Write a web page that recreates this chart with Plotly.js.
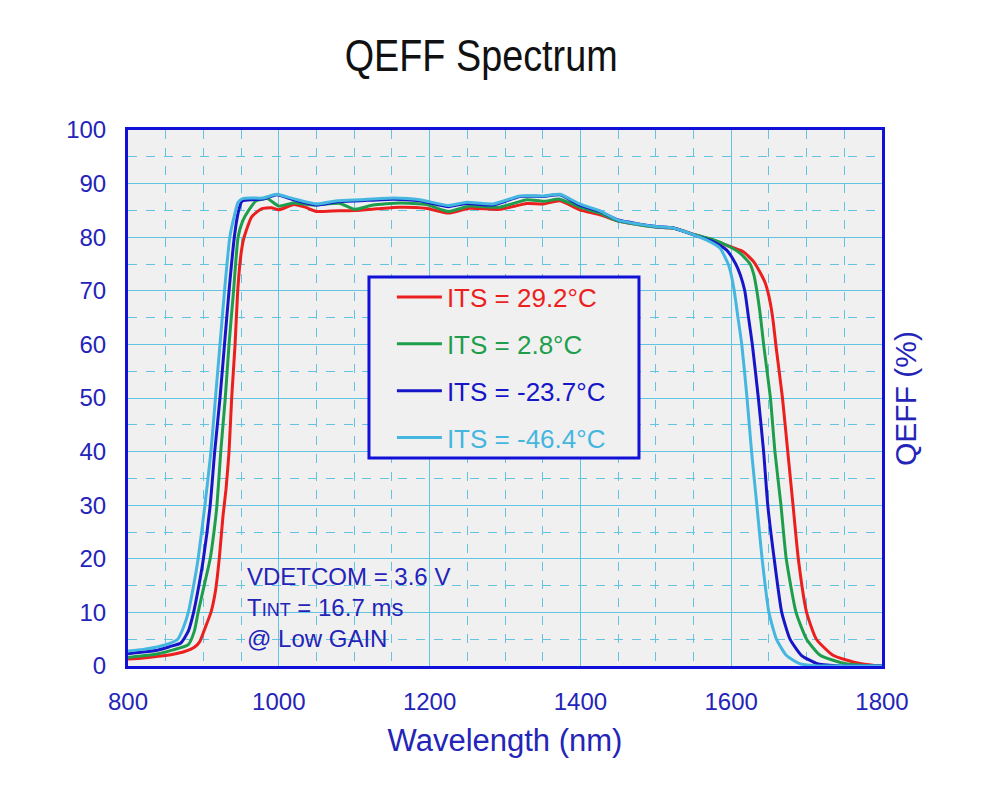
<!DOCTYPE html>
<html>
<head>
<meta charset="utf-8">
<script src="https://cdn.plot.ly/plotly-3.0.1.min.js"></script>
<style>
  html, body { margin: 0; padding: 0; background: #ffffff; }
  #chart { width: 982px; height: 785px; }
</style>
</head>
<body>
<div id="chart"></div>
<script>
// Curve colours
const RED = "#ec1f1f";
const GREEN = "#1e9e4c";
const BLUE = "#1616c8";
const CYAN = "#45b6e0";
const AXIS_BLUE = "#2424b8";
const BORDER_BLUE = "#1010d8";
const GRID_BLUE = "#62c4e0";
const FONT = "Liberation Sans, Arial, sans-serif";

const seriesNames = ["ITS = 29.2°C", "ITS = 2.8°C", "ITS = -23.7°C", "ITS = -46.4°C"];

// ITS = 29.2 C
const redX = [800, 820, 840, 860, 875, 888, 895, 902, 910, 916, 921, 926, 930, 934, 937.5, 942, 945.5, 950, 954, 964,
  977, 990, 1000, 1020, 1035, 1050, 1070, 1100, 1130, 1160, 1195, 1225, 1253, 1293, 1329, 1351, 1373, 1399, 1426,
  1450, 1500, 1523, 1553, 1575, 1594, 1616, 1630, 1638, 1645, 1650, 1655, 1660, 1668, 1675, 1682, 1689, 1700, 1713,
  1735, 1766, 1790, 1800];
const redY = [1.3, 1.5, 1.8, 2.2, 2.7, 3.5, 4.5, 7, 10, 14, 20, 28, 33, 40, 50, 60, 70, 77, 80, 83.8,
  85.3, 85.5, 85.1, 86.1, 85.6, 84.8, 84.9, 85.0, 85.3, 85.6, 85.4, 84.5, 85.4, 85.2, 86.3, 86.2, 86.8, 85.1, 84.2,
  83.0, 81.9, 81.7, 80.4, 79.5, 78.5, 77.3, 75.4, 73.5, 71.5, 69, 65, 59, 50, 40, 30, 20, 10, 5,
  2, 0.6, 0.1, 0.05];

// ITS = 2.8 C
const greenX = [800, 820, 840, 860, 880, 888, 893, 901, 909, 914, 918, 923, 929, 934, 940, 946, 952, 960, 970, 985,
  1000, 1019, 1046, 1081, 1101, 1125, 1160, 1196, 1225, 1253, 1293, 1329, 1351, 1373, 1399, 1426, 1450,
  1500, 1523, 1553, 1575, 1594, 1612, 1625, 1630, 1634, 1639, 1643, 1652, 1658, 1666, 1673, 1686, 1700, 1718,
  1749, 1780, 1800];
const greenY = [1.6, 1.9, 2.3, 3, 4, 6.5, 10, 15, 20, 25, 30, 40, 50, 60, 70, 80, 83, 85, 86.8, 87.2,
  85.8, 86.4, 86.0, 86.3, 85.2, 86.0, 86.4, 86.1, 84.8, 85.8, 85.6, 87.0, 86.7, 87.1, 85.6, 84.5, 83.0,
  81.9, 81.7, 80.4, 79.6, 78.5, 77, 75, 73, 70, 65, 60, 50, 40, 30, 20, 10, 5, 2,
  0.5, 0.05, 0.02];

// ITS = -23.7 C
const blueX = [800, 820, 840, 855, 870, 880, 887, 894, 900, 909, 915, 922, 928, 934, 941, 946, 951, 965, 979, 997,
  1019, 1050, 1077, 1108, 1152, 1187, 1225, 1249, 1284, 1320, 1351, 1373, 1399, 1426, 1450, 1500, 1523, 1553,
  1576, 1594, 1606, 1612, 1618, 1623, 1628, 1636, 1643, 1648.5, 1657, 1667, 1678, 1693, 1713, 1740, 1800];
const blueY = [2.3, 2.6, 3.0, 3.6, 4.3, 6.5, 10, 15, 20, 30, 40, 50, 60, 70, 80, 84.5, 86.7, 87.0, 87.1, 87.9,
  87.0, 86.0, 86.6, 86.8, 87.1, 86.8, 85.7, 86.3, 86.0, 87.6, 87.6, 87.9, 86.0, 84.8, 83.2, 82.0, 81.7, 80.3,
  79.2, 77.6, 75, 73, 70, 65, 60, 50, 40, 30, 20, 10, 5, 2, 0.5, 0.05, 0];

// ITS = -46.4 C
const cyanX = [800, 820, 840, 855, 866, 873, 880, 887, 893, 902, 910, 916, 922, 928, 935, 941, 946, 952, 965,
  979, 997, 1019, 1050, 1077, 1108, 1152, 1187, 1225, 1249, 1284, 1320, 1351, 1373, 1399, 1426, 1450, 1500,
  1523, 1553, 1567, 1585, 1596, 1600, 1604, 1609, 1614, 1621, 1627, 1634, 1641, 1650, 1660, 1673, 1690, 1710, 1800];
const cyanY = [2.8, 3.1, 3.6, 4.2, 5, 7, 10, 15, 20, 30, 40, 50, 60, 70, 80, 84, 86.5, 87.2, 87.3,
  87.3, 88.0, 87.2, 86.2, 86.8, 87.0, 87.3, 87.0, 85.9, 86.5, 86.2, 87.7, 87.7, 88.0, 86.2, 84.9, 83.2, 82.0,
  81.7, 80.3, 79.5, 78, 75, 73, 70, 65, 60, 50, 40, 30, 20, 10, 5, 2, 0.5, 0.05, 0];

const legendColors = [RED, GREEN, BLUE, CYAN];

function curve(x, y, i) {
  return {
    x: x,
    y: y,
    // legend text takes the curve colour
    name: '<span style="color:' + legendColors[i] + '">' + seriesNames[i] + "</span>",
    type: "scatter",
    mode: "lines",
    line: { color: legendColors[i], width: 3, shape: "spline", smoothing: 0.5 },
    legendgroup: "g" + i,
  };
}

const traces = [
  curve(redX, redY, 0),
  curve(greenX, greenY, 1),
  curve(blueX, blueY, 2),
  curve(cyanX, cyanY, 3),
];

const layout = {
  width: 982,
  height: 785,
  paper_bgcolor: "#ffffff",
  plot_bgcolor: "#f0f0f0",
  margin: { l: 128, r: 100, t: 130, b: 119 },
  font: { family: FONT, color: AXIS_BLUE },
  title: {
    text: "QEFF Spectrum",
    font: { family: FONT, size: 45, color: "#111111" },
    x: 0.49,
    xanchor: "center",
    y: 0.93,
    yanchor: "middle",
  },
  xaxis: {
    range: [800, 1800],
    dtick: 200,
    tick0: 800,
    ticks: "",
    showgrid: true,
    gridcolor: GRID_BLUE,
    gridwidth: 1,
    minor: { dtick: 50, showgrid: true, gridcolor: GRID_BLUE, griddash: "dash", gridwidth: 1 },
    showline: true,
    mirror: true,
    linecolor: BORDER_BLUE,
    linewidth: 3,
    zeroline: false,
    tickfont: { size: 24, color: AXIS_BLUE },
    ticklabelstandoff: 12,
    title: { text: "Wavelength (nm)", font: { size: 31, color: AXIS_BLUE }, standoff: 16 },
  },
  yaxis: {
    range: [0, 100],
    dtick: 10,
    ticks: "",
    showgrid: true,
    gridcolor: GRID_BLUE,
    gridwidth: 1,
    minor: { dtick: 5, showgrid: true, gridcolor: GRID_BLUE, griddash: "dash", gridwidth: 1 },
    showline: true,
    mirror: true,
    linecolor: BORDER_BLUE,
    linewidth: 3,
    zeroline: false,
    tickfont: { size: 24, color: AXIS_BLUE },
    ticklabelstandoff: 14,
  },
  showlegend: true,
  legend: {
    x: 0.350,
    y: 0.732,
    xanchor: "left",
    yanchor: "top",
    bgcolor: "rgba(0,0,0,0)",
    borderwidth: 0,
    font: { size: 26 },
    itemwidth: 45,
    traceorder: "grouped",
    tracegroupgap: 10,
  },
  // the legend frame
  shapes: [
    {
      type: "rect",
      xref: "paper",
      yref: "paper",
      x0: 0.3196,
      x1: 0.6777,
      y0: 0.388,
      y1: 0.7257,
      layer: "above",
      fillcolor: "#f0f0f0",
      line: { color: BORDER_BLUE, width: 3 },
    },
  ],
  annotations: [
    {
      xref: "paper",
      yref: "paper",
      x: 1.0305,
      y: 0.5,
      xanchor: "center",
      yanchor: "middle",
      textangle: -90,
      showarrow: false,
      text: "QEFF (%)",
      font: { size: 30, color: AXIS_BLUE },
    },
    {
      xref: "paper",
      yref: "paper",
      x: 0.155,
      y: 0.022,
      xanchor: "left",
      yanchor: "bottom",
      align: "left",
      showarrow: false,
      text: "VDETCOM = 3.6 V<br>T<span style=\"font-size:18px\">INT</span> = 16.7 ms<br>@ Low GAIN",
      font: { size: 24, color: AXIS_BLUE },
    },
  ],
};

Plotly.newPlot("chart", traces, layout, { displayModeBar: false, staticPlot: true }).then(function () {
  // The reference title is set in a narrow face; squeeze it horizontally about its centre
  const title = document.querySelector(".gtitle");
  if (title) {
    const box = title.getBBox();
    const cx = box.x + box.width / 2;
    const s = 0.84;
    title.setAttribute("transform", "translate(" + cx * (1 - s) + ",0) scale(" + s + ",1)");
  }
});
</script>
</body>
</html>
